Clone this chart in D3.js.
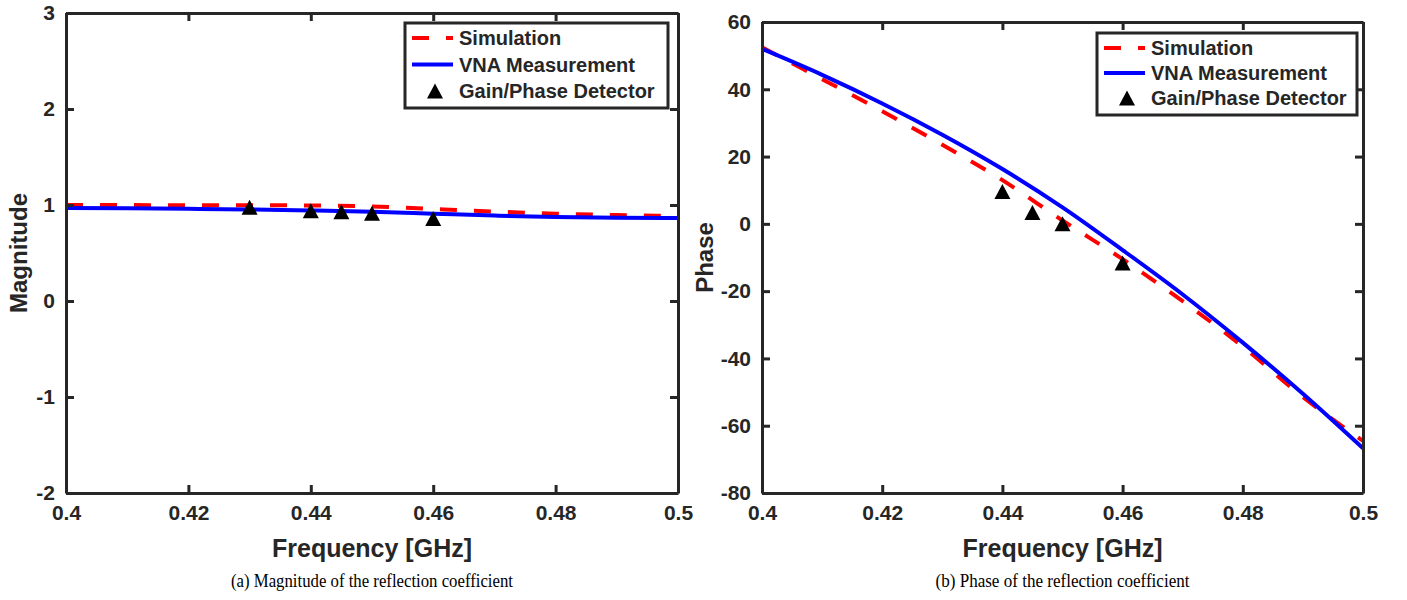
<!DOCTYPE html>
<html>
<head>
<meta charset="utf-8">
<script src="https://cdn.jsdelivr.net/npm/d3@7"></script>
<style>
  body { margin: 0; background: #fff; }
  svg text { font-family: "Liberation Sans", Arial, sans-serif; font-weight: bold; fill: #262626; }
  .caption { font-family: "Liberation Serif", "Times New Roman", serif; font-weight: normal; fill: #000; }
</style>
</head>
<body>
<svg id="chart" width="1407" height="600"></svg>
<script>
// frequency grid (GHz)
const freq = [0.40, 0.41, 0.42, 0.43, 0.44, 0.45, 0.46, 0.47, 0.48, 0.49, 0.50]

// magnitude of reflection coefficient
const magSim = [1.000, 0.999, 0.998, 0.997, 0.995, 0.985, 0.958, 0.932, 0.910, 0.895, 0.885]
const magVna = [0.970, 0.966, 0.960, 0.953, 0.943, 0.930, 0.910, 0.890, 0.874, 0.867, 0.865]

// phase of reflection coefficient (deg)
const phaseSim = [52.5, 43.0, 33.5, 23.5, 13.0, 1.0, -10.5, -23.0, -36.5, -51.5, -64.5]
const phaseVna = [52.0, 44.3, 35.8, 26.5, 16.3, 4.9, -7.8, -21.0, -35.3, -50.5, -66.7]

// gain/phase detector points
const detFreq = [0.43, 0.44, 0.445, 0.45, 0.46]
const detMag = [0.976, 0.940, 0.930, 0.915, 0.860]
const detFreqPh = [0.44, 0.445, 0.45, 0.46]
const detPhase = [9.6, 3.4, 0.0, -11.6]

const freqTicks = [0.4, 0.42, 0.44, 0.46, 0.48, 0.5]
const magTicks = [-2, -1, 0, 1, 2, 3]
const phaseTicks = [-80, -60, -40, -20, 0, 20, 40, 60]

const legendLabels = ["Simulation", "VNA Measurement", "Gain/Phase Detector"]

const svg = d3.select("#chart")
const axisColor = "#262626"

function tri(cx, cy) {
  const w = 16, h = 15
  return `M${cx},${cy - h / 2}L${cx + w / 2},${cy + h / 2}L${cx - w / 2},${cy + h / 2}Z`
}

function drawPanel(p) {
  const x = d3.scaleLinear().domain([0.4, 0.5]).range([p.x0, p.x1])
  const y = d3.scaleLinear().domain(p.yDomain).range([p.y1, p.y0])
  const g = svg.append("g")

  g.append("clipPath").attr("id", p.id + "-clip")
    .append("rect").attr("x", p.x0).attr("y", p.y0)
    .attr("width", p.x1 - p.x0).attr("height", p.y1 - p.y0)

  const line = d3.line().curve(d3.curveMonotoneX)
  const plot = g.append("g").attr("clip-path", `url(#${p.id}-clip)`)

  plot.append("path")
    .attr("d", line(freq.map((f, i) => [x(f), y(p.sim[i])])))
    .attr("fill", "none").attr("stroke", "#ff0000")
    .attr("stroke-width", 4).attr("stroke-dasharray", "17,17")

  plot.append("path")
    .attr("d", line(freq.map((f, i) => [x(f), y(p.vna[i])])))
    .attr("fill", "none").attr("stroke", "#0000ff")
    .attr("stroke-width", 4)

  plot.selectAll(".det").data(p.detX)
    .join("path")
    .attr("d", (f, i) => tri(x(f), y(p.detY[i])))
    .attr("fill", "#000")

  // axes, ticks pointing inward on all four sides
  const fmt = d => String(d)
  const bottom = g.append("g").attr("transform", `translate(0,${p.y1})`)
    .call(d3.axisBottom(x).tickValues(freqTicks).tickSize(-8).tickSizeOuter(0).tickPadding(12)
      .tickFormat(fmt))
  const top = g.append("g").attr("transform", `translate(0,${p.y0})`)
    .call(d3.axisTop(x).tickValues(freqTicks).tickSize(-8).tickSizeOuter(0).tickFormat(""))
  const left = g.append("g").attr("transform", `translate(${p.x0},0)`)
    .call(d3.axisLeft(y).tickValues(p.yTicks).tickSize(-8).tickSizeOuter(0).tickPadding(11)
      .tickFormat(fmt))
  const right = g.append("g").attr("transform", `translate(${p.x1},0)`)
    .call(d3.axisRight(y).tickValues(p.yTicks).tickSize(-8).tickSizeOuter(0).tickFormat(""))

  ;[bottom, top, left, right].forEach(a => {
    a.select(".domain").attr("stroke", axisColor).attr("stroke-width", 3)
    a.selectAll(".tick line").attr("stroke", axisColor).attr("stroke-width", 3)
    a.selectAll(".tick text").attr("fill", axisColor).style("font-size", "21px")
      .style("font-family", "'Liberation Sans', Arial, sans-serif").style("font-weight", "bold")
  })
  bottom.selectAll(".tick text").attr("dy", "0.72em")

  g.append("text")
    .attr("x", (p.x0 + p.x1) / 2).attr("y", 557)
    .attr("text-anchor", "middle").style("font-size", "25px")
    .text("Frequency [GHz]")

  g.append("text")
    .attr("transform", `translate(${p.yTitleX},${(p.y0 + p.y1) / 2}) rotate(-90)`)
    .attr("text-anchor", "middle").style("font-size", "24px")
    .text(p.yTitle)

  g.append("text").attr("class", "caption")
    .attr("x", (p.x0 + p.x1) / 2).attr("y", 587)
    .attr("text-anchor", "middle").style("font-size", "19px")
    .attr("textLength", p.captionW).attr("lengthAdjust", "spacingAndGlyphs")
    .text(p.caption)

  // legend
  const L = p.legend
  const lg = g.append("g")
  lg.append("rect")
    .attr("x", L.x).attr("y", L.y).attr("width", L.w).attr("height", L.h)
    .attr("fill", "#fff").attr("stroke", axisColor).attr("stroke-width", 3)
  const rowY = i => L.y + 15 + i * L.step
  lg.append("line").attr("x1", L.x + 7).attr("x2", L.x + 48)
    .attr("y1", rowY(0)).attr("y2", rowY(0))
    .attr("stroke", "#ff0000").attr("stroke-width", 4).attr("stroke-dasharray", "17,17")
  lg.append("line").attr("x1", L.x + 7).attr("x2", L.x + 48)
    .attr("y1", rowY(1)).attr("y2", rowY(1))
    .attr("stroke", "#0000ff").attr("stroke-width", 4)
  lg.append("path").attr("d", tri(L.x + 30, rowY(2))).attr("fill", "#000")
  lg.selectAll(".lab").data(legendLabels)
    .join("text")
    .attr("x", L.x + 54).attr("y", (d, i) => rowY(i))
    .attr("dy", "0.36em").style("font-size", "20px")
    .attr("fill", "#000")
    .text(d => d)
}

drawPanel({
  id: "mag", x0: 66, x1: 678, y0: 13, y1: 493,
  yDomain: [-2, 3], yTicks: magTicks,
  sim: magSim, vna: magVna, detX: detFreq, detY: detMag,
  yTitle: "Magnitude", yTitleX: 27,
  caption: "(a) Magnitude of the reflection coefficient", captionW: 282,
  legend: { x: 405, y: 23, w: 263, h: 85, step: 26.5 }
})

drawPanel({
  id: "phase", x0: 762, x1: 1363, y0: 22, y1: 493,
  yDomain: [-80, 60], yTicks: phaseTicks,
  sim: phaseSim, vna: phaseVna, detX: detFreqPh, detY: detPhase,
  yTitle: "Phase", yTitleX: 713,
  caption: "(b) Phase of the reflection coefficient", captionW: 254,
  legend: { x: 1097, y: 33, w: 260, h: 82, step: 25 }
})
</script>
</body>
</html>
